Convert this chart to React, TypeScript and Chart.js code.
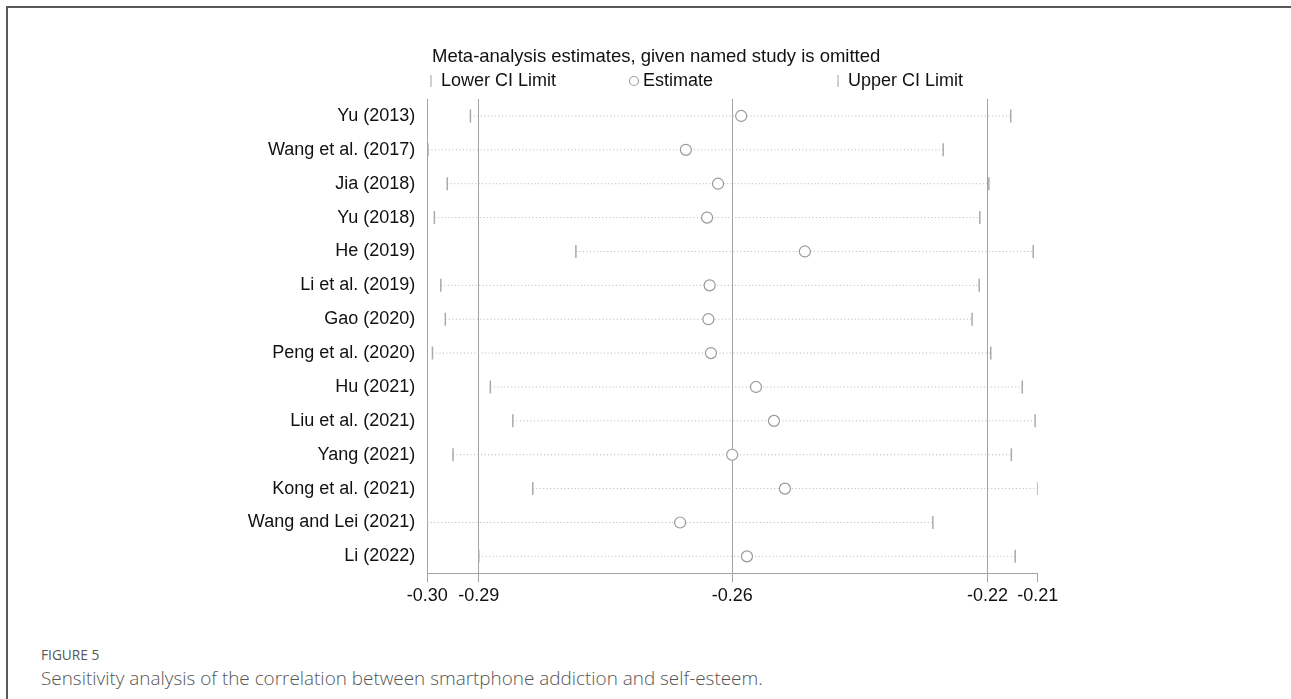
import React, { useEffect, useRef } from 'react';
import { Chart, registerables } from 'chart.js';

Chart.register(...registerables);

const studies = [
  'Yu (2013)',
  'Wang et al. (2017)',
  'Jia (2018)',
  'Yu (2018)',
  'He (2019)',
  'Li et al. (2019)',
  'Gao (2020)',
  'Peng et al. (2020)',
  'Hu (2021)',
  'Liu et al. (2021)',
  'Yang (2021)',
  'Kong et al. (2021)',
  'Wang and Lei (2021)',
  'Li (2022)',
];

const lowerCI = [-0.2959, -0.3025, -0.2995, -0.3015, -0.2795, -0.3005, -0.2998, -0.3018, -0.2928, -0.2893, -0.2986, -0.2862, -0.3026, -0.2946];
const estimates = [-0.2538, -0.2624, -0.2574, -0.2591, -0.2439, -0.2587, -0.2589, -0.2585, -0.2515, -0.2487, -0.2552, -0.2470, -0.2633, -0.2529];
const upperCI = [-0.2119, -0.2224, -0.2153, -0.2167, -0.2084, -0.2168, -0.2179, -0.2150, -0.2101, -0.2081, -0.2118, -0.2077, -0.2240, -0.2112];

// overall estimate and CI (with all studies) plus the axis extremes
const overallLower = -0.2946;
const overallEstimate = -0.2552;
const overallUpper = -0.2155;
const axisTickLabels = ['-0.30', '-0.29', '-0.26', '-0.22', '-0.21'];

const chartTitle = 'Meta-analysis estimates, given named study is omitted';
const legendLabels = ['Lower CI Limit', 'Estimate', 'Upper CI Limit'];

const FONT = '"Liberation Sans", Arial, sans-serif';
const GRID = '#a3a3a3';

const overlayPlugin = {
  id: 'metaninfOverlay',
  afterDraw(chart: any) {
    const ctx = chart.ctx;
    ctx.save();
    ctx.fillStyle = '#111';
    ctx.font = '18.5px ' + FONT;
    ctx.textBaseline = 'middle';
    ctx.textAlign = 'left';
    ctx.fillText(chartTitle, 432, 57);
    ctx.font = '18px ' + FONT;
    const ly = 81;
    ctx.strokeStyle = '#b0b0b0';
    ctx.lineWidth = 1.2;
    // lower marker
    ctx.beginPath();
    ctx.moveTo(431, ly - 6);
    ctx.lineTo(431, ly + 6);
    ctx.stroke();
    ctx.fillText(legendLabels[0], 441, ly);
    // estimate marker
    ctx.beginPath();
    ctx.arc(634, ly, 4.5, 0, Math.PI * 2);
    ctx.strokeStyle = '#a0a0a0';
    ctx.stroke();
    ctx.fillText(legendLabels[1], 643, ly);
    // upper marker
    ctx.strokeStyle = '#b0b0b0';
    ctx.beginPath();
    ctx.moveTo(838, ly - 6);
    ctx.lineTo(838, ly + 6);
    ctx.stroke();
    ctx.fillText(legendLabels[2], 848, ly);
    ctx.restore();
  },
};

function ChartView() {
  const ref = useRef<HTMLCanvasElement | null>(null);
  useEffect(() => {
    if (!ref.current) return;
    const minX = Math.min(...lowerCI);
    const maxX = Math.max(...upperCI);
    const tickValues = [minX, overallLower, overallEstimate, overallUpper, maxX];

    const ciLine: any[] = [];
    studies.forEach((_, i) => {
      ciLine.push({ x: lowerCI[i], y: i + 1 });
      ciLine.push({ x: upperCI[i], y: i + 1 });
      ciLine.push({ x: null, y: null });
    });

    const chart = new Chart(ref.current, {
      type: 'scatter',
      data: {
        datasets: [
          {
            label: 'Estimate',
            data: estimates.map((x, i) => ({ x, y: i + 1 })),
            pointStyle: 'circle',
            pointRadius: 5.5,
            pointBorderWidth: 1.2,
            pointBorderColor: '#999999',
            pointBackgroundColor: '#ffffff',
            order: 1,
          } as any,
          {
            label: 'Lower CI Limit',
            data: lowerCI.map((x, i) => ({ x, y: i + 1 })),
            pointStyle: 'line',
            rotation: 90,
            pointRadius: 6.5,
            pointBorderWidth: 1.5,
            pointBorderColor: '#aaaaaa',
            order: 2,
          } as any,
          {
            label: 'Upper CI Limit',
            data: upperCI.map((x, i) => ({ x, y: i + 1 })),
            pointStyle: 'line',
            rotation: 90,
            pointRadius: 6.5,
            pointBorderWidth: 1.5,
            pointBorderColor: '#aaaaaa',
            order: 2,
          } as any,
          {
            label: 'CI',
            data: ciLine,
            showLine: true,
            spanGaps: false,
            pointRadius: 0,
            borderColor: '#b5b5b5',
            borderWidth: 1,
            borderDash: [1, 2.5],
            order: 5,
          } as any,
        ],
      },
      options: {
        animation: false,
        responsive: false,
        maintainAspectRatio: false,
        devicePixelRatio: 1,
        layout: { padding: { top: 99, right: 253.3, left: 0, bottom: 0 } },
        plugins: {
          legend: { display: false },
          title: { display: false },
          tooltip: { enabled: false },
        },
        scales: {
          x: {
            type: 'linear',
            min: minX,
            max: maxX,
            afterBuildTicks: (scale: any) => {
              scale.ticks = tickValues.map((v) => ({ value: v }));
            },
            afterFit: (scale: any) => {
              scale.height = 620 - 573.3;
            },
            ticks: {
              autoSkip: false,
              maxRotation: 0,
              padding: 3,
              color: '#111',
              font: { family: FONT, size: 18 },
              callback: (_v: any, i: number) => axisTickLabels[i],
            },
            grid: {
              color: (c: any) => (c.index === 0 || c.index === 4 ? 'rgba(0,0,0,0)' : GRID),
              tickColor: GRID,
              tickLength: 9,
              lineWidth: 1,
            },
            border: { display: true, color: GRID, width: 1 },
          },
          y: {
            type: 'linear',
            min: 0.5,
            max: 14.5,
            reverse: true,
            afterBuildTicks: (scale: any) => {
              scale.ticks = studies.map((_, i) => ({ value: i + 1 }));
            },
            afterFit: (scale: any) => {
              scale.width = 427.3;
            },
            ticks: {
              autoSkip: false,
              padding: 12,
              color: '#111',
              font: { family: FONT, size: 18 },
              callback: (_v: any, i: number) => studies[i],
            },
            grid: { display: false, drawTicks: false },
            border: { display: true, color: GRID, width: 1 },
          },
        },
      },
      plugins: [overlayPlugin],
    });
    return () => chart.destroy();
  }, []);
  return <canvas ref={ref} width={1291} height={620} style={{ position: 'absolute', left: 0, top: 0, width: 1291, height: 620 }} />;
}

export default function App() {
  return (
    <div style={{ position: 'absolute', left: 0, top: 0, width: 1291, height: 699, overflow: 'hidden', background: '#fff' }}>
      <div style={{ position: 'absolute', left: 6, top: 6, width: 1300, height: 720, borderTop: '2px solid #5a5a5a', borderLeft: '2px solid #5a5a5a' }} />
      <ChartView />
      <div style={{ position: 'absolute', left: 41, top: 646, fontFamily: '"Open Sans", sans-serif', fontSize: 13.7, lineHeight: '18px', color: '#555' }}>
        FIGURE 5
      </div>
      <div style={{ position: 'absolute', left: 41, top: 667, fontFamily: '"Open Sans", sans-serif', fontWeight: 300, fontSize: 18.9, lineHeight: '22px', color: '#555', whiteSpace: 'nowrap' }}>
        Sensitivity analysis of the correlation between smartphone addiction and self-esteem.
      </div>
    </div>
  );
}
